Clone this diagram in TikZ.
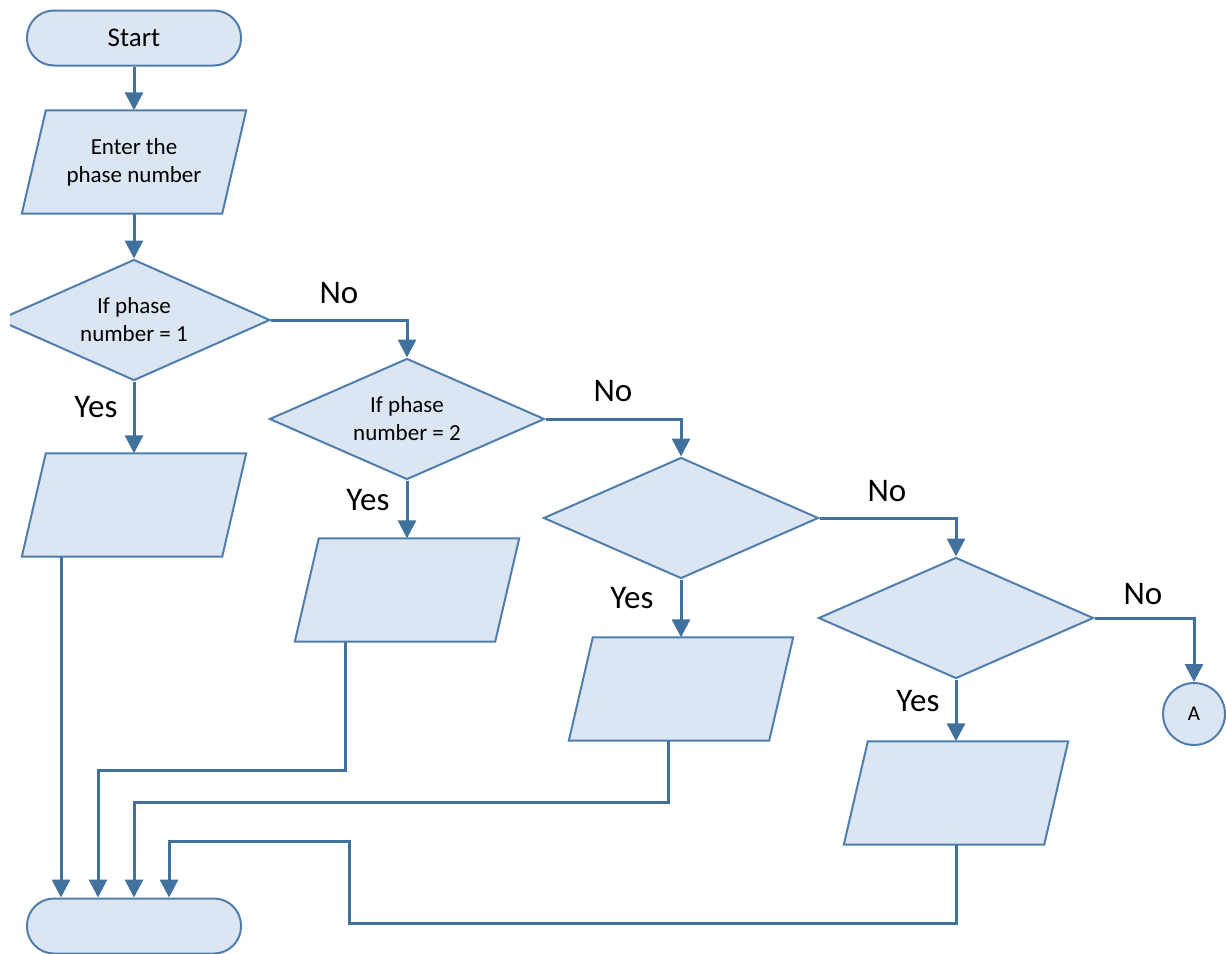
\documentclass[tikz,border=0pt]{standalone}
\usepackage{fontspec}
\setmainfont{Carlito}
\usetikzlibrary{shapes.geometric,arrows.meta,backgrounds}
\definecolor{boxfill}{RGB}{220,230,243}
\definecolor{boxline}{RGB}{80,126,172}
\definecolor{linecol}{RGB}{65,113,157}
\newcommand{\paraShape}[1]{%
  \begin{scope}[on background layer]
    \filldraw[shapeborder]
      ([xshift=12pt]#1.north west) -- ([xshift=12pt]#1.north east)
      -- ([xshift=-12pt]#1.south east) -- ([xshift=-12pt]#1.south west) -- cycle;
  \end{scope}}
\begin{document}
\begin{tikzpicture}[x=1pt,y=-1pt,
  shapeborder/.style={draw=boxline, fill=boxfill, line width=2pt, line join=miter},
  term/.style={shapeborder, rounded corners=27pt,
    minimum width=214pt, minimum height=55pt, inner sep=0pt,
    font=\fontsize{27}{30}\selectfont},
  io/.style={rectangle, minimum width=200pt, minimum height=103pt, inner sep=0pt,
    align=center, font=\fontsize{23}{28}\selectfont},
  dec/.style={diamond, shape aspect=2.27, shapeborder,
    minimum width=275pt, minimum height=121pt, inner sep=0pt, align=center,
    font=\fontsize{23}{28}\selectfont},
  conn/.style={draw=linecol, line width=3pt, -{Triangle[length=18pt,width=18pt]}},
  lbl/.style={font=\fontsize{33}{38}\selectfont, text=black},
  conncirc/.style={circle, shapeborder, minimum size=62pt,
    inner sep=0pt, font=\fontsize{21}{25}\selectfont}
]
\useasboundingbox (0,0) rectangle (1226,953);
\begin{scope}[on background layer]
  \fill[white] (0,0) rectangle (1226,953);
\end{scope}
\clip (10,0) rectangle (1226,953);

\node[term] (start) at (134,38) {Start};
\node[io] (p1) at (134,162) {Enter the\\phase number};
\node[dec, minimum width=272pt] (d1) at (134,320) {If phase\\number = 1};
\node[io] (p2) at (134,505) {};
\node[dec] (d2) at (407,419) {If phase\\number = 2};
\node[io] (p3) at (407,590) {};
\node[dec] (d3) at (681,518) {};
\node[io] (p4) at (681,689) {};
\node[dec] (d4) at (956,618) {};
\node[io] (p5) at (956,793) {};
\node[conncirc] (A) at (1194,714) {A};
\node[term] (stop) at (134,926) {};

\paraShape{p1}
\paraShape{p2}
\paraShape{p3}
\paraShape{p4}
\paraShape{p5}

\node[lbl] (no1) at (339,293) {No};
\node[lbl] (no2) at (613,391) {No};
\node[lbl] (no3) at (887,491) {No};
\node[lbl] (no4) at (1143,594) {No};
\node[lbl] (yes1) at (96,407) {Yes};
\node[lbl] (yes2) at (368,500) {Yes};
\node[lbl] (yes3) at (632,598) {Yes};
\node[lbl] (yes4) at (918,701) {Yes};

\coordinate (m3) at (98,770);
\coordinate (m4) at (134,802);
\coordinate (m5a) at (349,923);
\coordinate (m5b) at (169,841);

\draw[conn] (start) -- (p1);
\draw[conn] (p1) -- (d1);
\draw[conn] (d1.south) -- (p2.north);
\draw[conn] (d1.east) -| (d2.north);
\draw[conn] (d2.south) -- (d2.south |- p3.north);
\draw[conn] (d2.east) -| (d3.north);
\draw[conn] (d3.south) -- (d3.south |- p4.north);
\draw[conn] (d3.east) -| (d4.north);
\draw[conn] (d4.south) -- (d4.south |- p5.north);
\draw[conn] (d4.east) -| (A.north);

\draw[conn] ([xshift=-73pt]p2.south) -- ([xshift=-73pt]stop.north);
\draw[conn] ([xshift=-62pt]p3.south) |- (m3) -- (m3 |- stop.north);
\draw[conn] ([xshift=-13pt]p4.south) |- (m4) -- (stop.north);
\draw[conn] (p5.south) |- (m5a) |- (m5b) -- (m5b |- stop.north);
\end{tikzpicture}
\end{document}
